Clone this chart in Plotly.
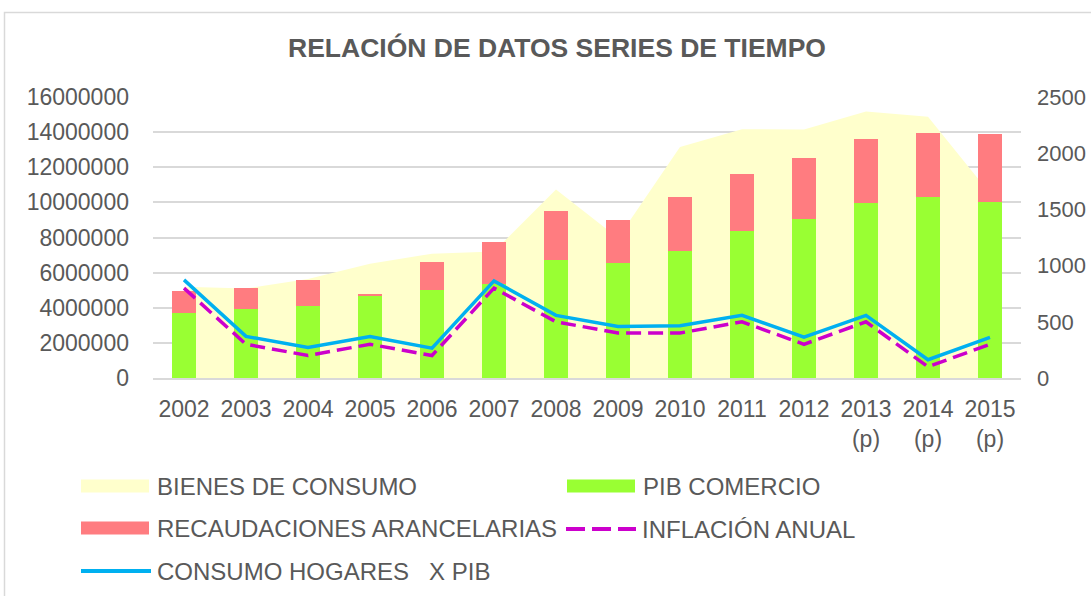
import plotly.graph_objects as go

years = ["2002", "2003", "2004", "2005", "2006", "2007", "2008", "2009",
         "2010", "2011", "2012", "2013<br>(p)", "2014<br>(p)", "2015<br>(p)"]
bienes_consumo = [5200000, 5100000, 5630000, 6500000, 7080000, 7200000, 10740000,
                  7970000, 13160000, 14170000, 14150000, 15170000, 14870000, 10500000]
pib_comercio = [3690000, 3940000, 4110000, 4660000, 5020000, 5360000, 6740000,
                6520000, 7230000, 8370000, 9050000, 9980000, 10300000, 10020000]
recaudaciones = [1270000, 1190000, 1480000, 130000, 1570000, 2390000, 2750000,
                 2480000, 3090000, 3240000, 3450000, 3620000, 3660000, 3880000]
inflacion = [800, 300, 200, 300, 200, 800, 500, 400, 400, 500, 300, 500, 100, 300]
consumo_hogares = [873, 370, 272, 370, 266, 864, 557, 459, 465, 557, 364, 557, 163, 361]

C_AREA = "#FFFFCC"
C_GREEN = "#99FF33"
C_RED = "#FF7C80"
C_PURPLE = "#CC00CC"
C_BLUE = "#00B0F0"
C_TEXT = "#595959"
FONT = "Liberation Sans, Arial, sans-serif"

W, H = 1091, 596
L, R, T, B = 153, 70, 97, 218
PW, PH = W - L - R, H - T - B


def px(x):
    return (x - L) / PW


def py(y):
    return (H - B - y) / PH


fig = go.Figure()
fig.add_trace(go.Scatter(x=years, y=bienes_consumo, name="BIENES DE CONSUMO",
                         mode="lines", line=dict(width=0, color=C_AREA),
                         fill="tozeroy", fillcolor=C_AREA, yaxis="y", showlegend=False))
fig.add_trace(go.Bar(x=years, y=pib_comercio, name="PIB COMERCIO", marker_color=C_GREEN,
                     marker_line_width=0, yaxis="y2", showlegend=False))
fig.add_trace(go.Bar(x=years, y=recaudaciones, name="RECAUDACIONES ARANCELARIAS",
                     marker_color=C_RED, marker_line_width=0, yaxis="y2", showlegend=False))
fig.add_trace(go.Scatter(x=years, y=inflacion, name="INFLACIÓN ANUAL", mode="lines",
                         line=dict(color=C_PURPLE, width=3.5, dash="15px,7px"),
                         yaxis="y3", showlegend=False))
fig.add_trace(go.Scatter(x=years, y=consumo_hogares, name="CONSUMO HOGARES   X PIB",
                         mode="lines", line=dict(color=C_BLUE, width=3.5),
                         yaxis="y3", showlegend=False))

tickfont = dict(family=FONT, size=23, color=C_TEXT)
fig.update_layout(
    width=W, height=H, autosize=False,
    margin=dict(l=L, r=R, t=T, b=B, autoexpand=False),
    paper_bgcolor="white", plot_bgcolor="white",
    barmode="stack", bargap=0.6,
    font=dict(family=FONT, color=C_TEXT),
    title=dict(text="<b>RELACIÓN DE DATOS SERIES DE TIEMPO</b>",
               font=dict(family=FONT, size=26.5, color=C_TEXT),
               x=px(557), xref="paper", xanchor="center",
               y=1 - 48 / H, yref="container", yanchor="middle"),
    xaxis=dict(type="category", showgrid=False, showline=True, linecolor="#D9D9D9",
               linewidth=1.5, tickfont=tickfont, ticks="", ticklabelstandoff=10,
               automargin=False),
    yaxis=dict(range=[0, 16000000], dtick=2000000, tickformat="d", showgrid=True,
               gridcolor="#D9D9D9", gridwidth=1.5, zeroline=False, tickfont=tickfont,
               ticks="", ticklabelstandoff=23, automargin=False),
    yaxis2=dict(range=[0, 16000000], overlaying="y", side="left", showgrid=False,
                showticklabels=False, zeroline=False, visible=False, automargin=False),
    yaxis3=dict(range=[0, 2500], dtick=500, overlaying="y", side="right", showgrid=False,
                zeroline=False, tickfont=dict(family=FONT, size=22, color=C_TEXT),
                ticks="", ticklabelstandoff=15, automargin=False),
)

shapes = []
# chart border
shapes.append(dict(type="rect", xref="paper", yref="paper", x0=px(4.5), x1=px(1200),
                   y0=py(800), y1=py(12.5), line=dict(color="#D9D9D9", width=1.5),
                   fillcolor="rgba(0,0,0,0)", layer="below"))

annotations = []
legend_items = [
    ("BIENES DE CONSUMO", "rect", C_AREA, 81, 486),
    ("PIB COMERCIO", "rect", C_GREEN, 567, 486),
    ("RECAUDACIONES ARANCELARIAS", "rect", C_RED, 81, 528),
    ("INFLACIÓN ANUAL", "dash", C_PURPLE, 566, 529),
    ("CONSUMO HOGARES   X PIB", "line", C_BLUE, 81, 571),
]
for text, kind, color, x0, yc in legend_items:
    if kind == "rect":
        shapes.append(dict(type="rect", xref="paper", yref="paper", x0=px(x0), x1=px(x0 + 68),
                           y0=py(yc + 6.5), y1=py(yc - 6.5), fillcolor=color, line_width=0))
    else:
        shapes.append(dict(type="line", xref="paper", yref="paper", x0=px(x0), x1=px(x0 + 70),
                           y0=py(yc), y1=py(yc),
                           line=dict(color=color, width=4,
                                     dash="19px,7px" if kind == "dash" else "solid")))
    annotations.append(dict(text=text.replace("   ", "&nbsp;&nbsp;&nbsp;"), xref="paper", yref="paper",
                            x=px(x0 + 74), y=py(yc), xanchor="left", yanchor="middle",
                            showarrow=False, font=dict(family=FONT, size=24, color=C_TEXT)))

fig.update_layout(shapes=shapes, annotations=annotations)
fig.write_html("out.html", config={"displayModeBar": False},
               post_script="document.body.style.margin='0px';")
